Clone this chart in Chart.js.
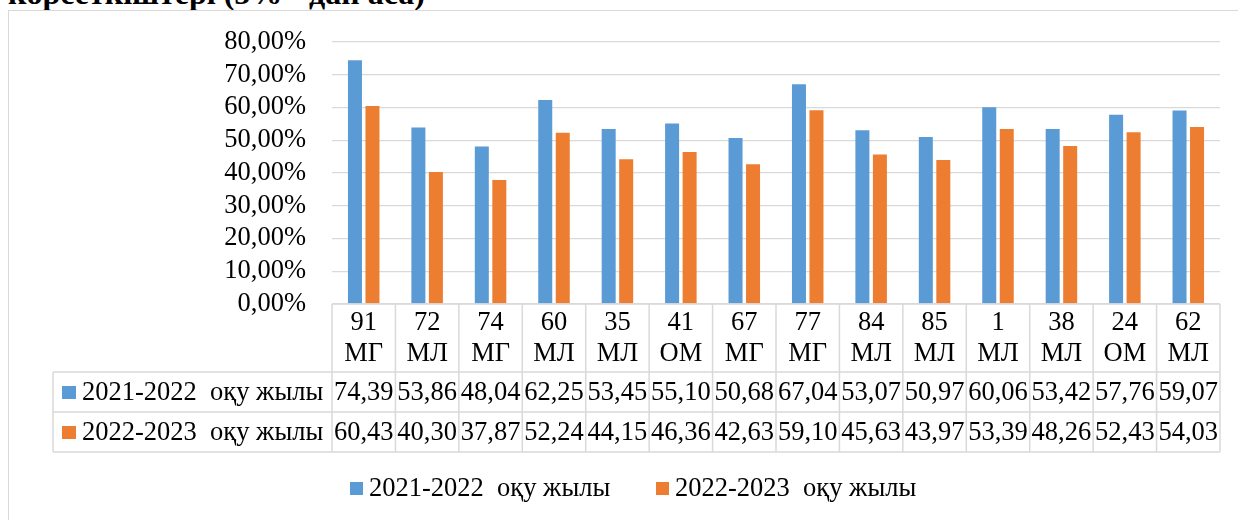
<!DOCTYPE html>
<html>
<head>
<meta charset="utf-8">
<script src="https://cdn.jsdelivr.net/npm/chart.js@4.4.1/dist/chart.umd.min.js"></script>
<style>
  html, body { margin: 0; padding: 0; background: #fff; width: 1238px; height: 520px; overflow: hidden; position: relative; }
  #title { position: absolute; left: 8px; top: -23px; font: bold 32px "Liberation Serif", "Times New Roman", serif; line-height: 32px; color: #000; white-space: nowrap; }
  #frame { position: absolute; left: 8px; top: 10px; width: 1300px; height: 600px; border: 1px solid #d9d9d9; box-sizing: border-box; }
  #c { position: absolute; left: 0; top: 0; }
</style>
</head>
<body>
<div id="title">көрсеткіштері (5% - дан аса)</div>
<div id="frame"></div>
<canvas id="c" width="1238" height="520"></canvas>
<script>
// ---- data ----
const categories = [["91","МГ"],["72","МЛ"],["74","МГ"],["60","МЛ"],["35","МЛ"],["41","ОМ"],["67","МГ"],["77","МГ"],["84","МЛ"],["85","МЛ"],["1","МЛ"],["38","МЛ"],["24","ОМ"],["62","МЛ"]];
const seriesNames = ["2021-2022  оқу жылы", "2022-2023  оқу жылы"];
const series2021 = [74.39,53.86,48.04,62.25,53.45,55.10,50.68,67.04,53.07,50.97,60.06,53.42,57.76,59.07];
const series2022 = [60.43,40.30,37.87,52.24,44.15,46.36,42.63,59.10,45.63,43.97,53.39,48.26,52.43,54.03];
const yTicks = [0,10,20,30,40,50,60,70,80];

const FONT = '"Liberation Serif", "Times New Roman", serif';
const FS = 26.5;
const colors = ['#5B9BD5', '#ED7D31'];
const lineCol = '#d9d9d9';
const fmt = v => v.toFixed(2).replace('.', ',');

const tablePlugin = {
  id: 'tableAndLegend',
  afterDraw(chart) {
    const ctx = chart.ctx;
    const ca = chart.chartArea;
    const xs = chart.scales.x;
    const n = categories.length;
    const cw = (ca.right - ca.left) / n;
    const headTop = ca.bottom;
    const r1 = 372, r2 = 412, r3 = 452;
    const tableLeft = 53;
    ctx.save();
    ctx.strokeStyle = lineCol;
    ctx.lineWidth = 1.5;
    ctx.beginPath();
    ctx.moveTo(ca.left, headTop); ctx.lineTo(ca.right, headTop);
    [r1, r2, r3].forEach(y => { ctx.moveTo(tableLeft, y); ctx.lineTo(ca.right, y); });
    ctx.moveTo(tableLeft, r1); ctx.lineTo(tableLeft, r3);
    for (let k = 0; k <= n; k++) {
      const x = ca.left + k * cw;
      ctx.moveTo(x, headTop); ctx.lineTo(x, r3);
    }
    ctx.stroke();

    ctx.font = FS + 'px ' + FONT;
    ctx.fillStyle = '#000';
    ctx.textBaseline = 'middle';
    const rows = [[series2021, r1, r2], [series2022, r2, r3]];
    rows.forEach((row, ri) => {
      const [vals, top, bot] = row;
      const cy = (top + bot) / 2 + 1;
      ctx.fillStyle = colors[ri];
      ctx.fillRect(62, cy - 7, 14, 13);
      ctx.fillStyle = '#000';
      ctx.textAlign = 'left';
      ctx.fillText(seriesNames[ri], 82, cy);
      ctx.textAlign = 'center';
      vals.forEach((v, i) => {
        ctx.fillText(fmt(v), xs.getPixelForValue(i), cy);
      });
    });

    // legend
    const ly = 489;
    const lxs = [350, 656];
    seriesNames.forEach((name, i) => {
      const lx = lxs[i];
      ctx.fillStyle = colors[i];
      ctx.fillRect(lx, ly - 7, 13, 13);
      ctx.fillStyle = '#000';
      ctx.textAlign = 'left';
      ctx.fillText(name, lx + 19, ly);
    });
    ctx.restore();
  }
};

new Chart(document.getElementById('c'), {
  type: 'bar',
  data: {
    labels: categories,
    datasets: [
      { label: seriesNames[0], data: series2021, backgroundColor: colors[0], categoryPercentage: 0.552, barPercentage: 0.8 },
      { label: seriesNames[1], data: series2022, backgroundColor: colors[1], categoryPercentage: 0.552, barPercentage: 0.8 }
    ]
  },
  options: {
    responsive: false,
    animation: false,
    devicePixelRatio: 1,
    layout: { padding: { left: 0, right: 18, top: 36, bottom: 0 } },
    plugins: { legend: { display: false }, tooltip: { enabled: false } },
    scales: {
      x: {
        grid: { display: false, drawTicks: false },
        border: { display: false },
        ticks: { color: '#000', font: { family: FONT, size: FS, lineHeight: 1.16 }, padding: 4, maxRotation: 0, autoSkip: false },
        afterFit(s) { s.height = 216; }
      },
      y: {
        min: 0, max: 80,
        afterBuildTicks(s) { s.ticks = yTicks.map(v => ({ value: v })); },
        grid: { color: lineCol, lineWidth: 1.3, drawTicks: false },
        border: { display: false },
        ticks: { color: '#000', font: { family: FONT, size: FS }, padding: 26, autoSkip: false, callback: v => fmt(v) + '%' },
        afterFit(s) { s.width = 332; }
      }
    }
  },
  plugins: [tablePlugin]
});
</script>
</body>
</html>
